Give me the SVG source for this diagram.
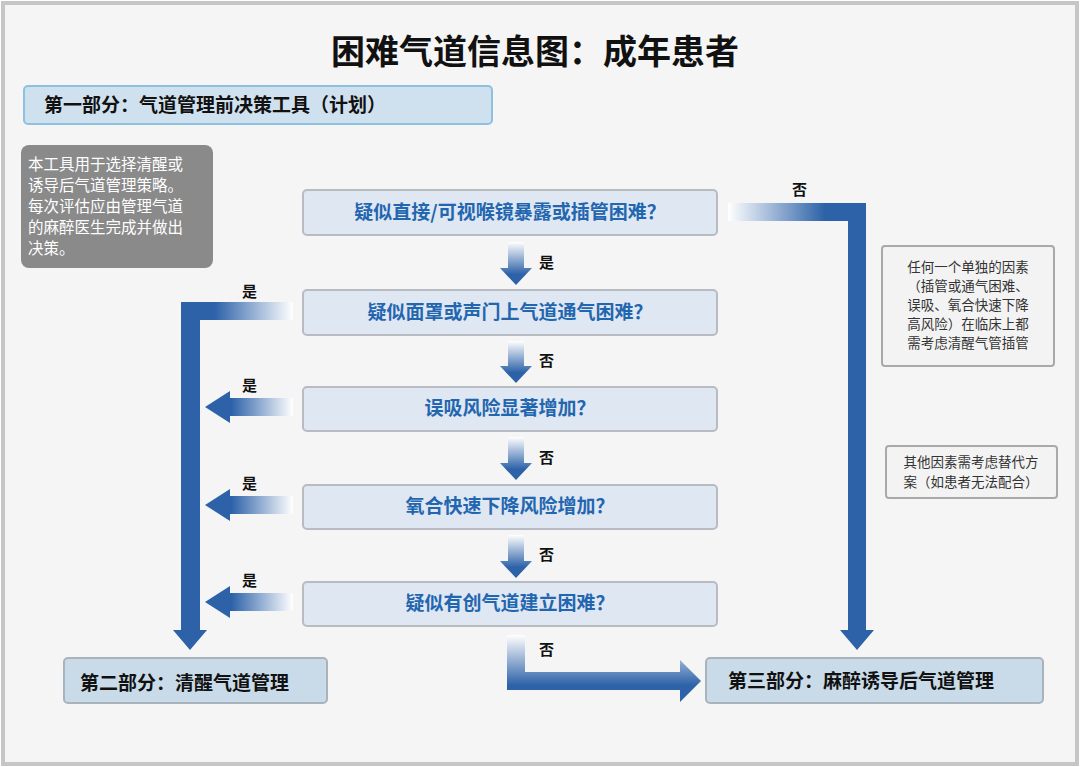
<svg xmlns="http://www.w3.org/2000/svg" width="1080" height="767" viewBox="0 0 1080 767">
<style>
text{font-family:"Noto Sans CJK SC","Liberation Sans",sans-serif}
.q{fill:#dfe7f2;stroke:#b8bcc2;stroke-width:2}
.qt{fill:#2366b0;font-weight:bold;font-size:19px;text-anchor:middle}
.lb{font-size:15px;font-weight:bold;fill:#111}
.part{fill:#c9dbe9;stroke:#a9b3bc;stroke-width:2}
.pt{font-size:19px;font-weight:bold;fill:#111}
.note{fill:#f3f3f3;stroke:#a9a9a9;stroke-width:2}
.nt{font-size:13.5px;fill:#333;text-anchor:middle}
</style>
<defs>
<linearGradient id="gd" x1="0" y1="0" x2="0" y2="1"><stop offset="0" stop-color="#fff"/><stop offset="0.75" stop-color="#2d62a8"/></linearGradient>
<linearGradient id="gl" x1="1" y1="0" x2="0" y2="0"><stop offset="0" stop-color="#fff"/><stop offset="0.7" stop-color="#2d62a8"/></linearGradient>
<linearGradient id="gr" x1="0" y1="0" x2="1" y2="0"><stop offset="0" stop-color="#fff"/><stop offset="0.7" stop-color="#2d62a8"/></linearGradient>
</defs>
<rect x="3" y="3" width="1074" height="761" fill="#f5f5f5" stroke="#c6c6c6" stroke-width="4"/>
<text x="535" y="64" font-size="34" font-weight="bold" text-anchor="middle" fill="#111">困难气道信息图：成年患者</text>
<g id="part1"><rect x="24" y="86" width="468" height="38" rx="4" fill="#cfe1ef" stroke="#8cc2df" stroke-width="2"/><text x="44" y="112" class="pt">第一部分：气道管理前决策工具（计划）</text></g>
<g id="intro"><rect x="21" y="145" width="192" height="123" rx="8" fill="#8a8a8a"/>
<text font-size="15.5" fill="#fff"><tspan x="28" y="170">本工具用于选择清醒或</tspan><tspan x="28" y="191">诱导后气道管理策略。</tspan><tspan x="28" y="212">每次评估应由管理气道</tspan><tspan x="28" y="233">的麻醉医生完成并做出</tspan><tspan x="28" y="254">决策。</tspan></text></g>
<g id="q1"><rect class="q" x="303" y="190" width="414" height="45" rx="4"/><text class="qt" x="510" y="219">疑似直接/可视喉镜暴露或插管困难？</text></g>
<g id="q2"><rect class="q" x="303" y="290" width="414" height="45" rx="4"/><text class="qt" x="510" y="319">疑似面罩或声门上气道通气困难？</text></g>
<g id="q3"><rect class="q" x="303" y="387" width="414" height="44" rx="4"/><text class="qt" x="510" y="415">误吸风险显著增加？</text></g>
<g id="q4"><rect class="q" x="303" y="485" width="414" height="44" rx="4"/><text class="qt" x="510" y="513">氧合快速下降风险增加？</text></g>
<g id="q5"><rect class="q" x="303" y="582" width="414" height="44" rx="4"/><text class="qt" x="510" y="610">疑似有创气道建立困难？</text></g>
<g id="part2"><rect class="part" x="64" y="658" width="263" height="45" rx="4"/><text class="pt" x="80" y="690">第二部分：清醒气道管理</text></g>
<g id="part3"><rect class="part" x="706" y="658" width="337" height="45" rx="4"/><text class="pt" x="728" y="688">第三部分：麻醉诱导后气道管理</text></g>
<g id="note1"><rect class="note" x="882" y="246" width="172" height="120" rx="3"/>
<text class="nt"><tspan x="968" y="272">任何一个单独的因素</tspan><tspan x="968" y="291">（插管或通气困难、</tspan><tspan x="968" y="310">误吸、氧合快速下降</tspan><tspan x="968" y="329">高风险）在临床上都</tspan><tspan x="968" y="348">需考虑清醒气管插管</tspan></text></g>
<g id="note2"><rect class="note" x="886" y="446" width="171" height="52" rx="3"/>
<text class="nt"><tspan x="971" y="467">其他因素需考虑替代方</tspan><tspan x="971" y="487">案（如患者无法配合）</tspan></text></g>
<g id="connectors">
<path d="M508 242H524V268H532L516 285L500 268H508Z" fill="url(#gd)"/>
<path d="M508 341H524V366H532L516 383L500 366H508Z" fill="url(#gd)"/>
<path d="M508 437H524V463H532L516 480L500 463H508Z" fill="url(#gd)"/>
<path d="M508 535H524V561H532L516 578L500 561H508Z" fill="url(#gd)"/>
<path d="M293 398V416H230V423L205 407L230 391V398Z" fill="url(#gl)"/>
<path d="M293 496V514H230V521L205 505L230 489V496Z" fill="url(#gl)"/>
<path d="M293 593V611H230V618L205 602L230 586V593Z" fill="url(#gl)"/>
<rect x="181" y="302" width="112" height="18" fill="url(#gl)"/>
<path d="M181 302H200V630H207L190 650L173 630H181Z" fill="#2d62a8"/>
<rect x="728" y="203" width="138" height="18" fill="url(#gr)"/>
<path d="M848 203H866V630H874L857 650L840 630H848Z" fill="#2d62a8"/>
<path d="M507 635H525V672H680V660L701 681L680 702V690H507Z" fill="url(#gd)"/>
<text class="lb" x="539" y="268">是</text>
<text class="lb" x="539" y="366">否</text>
<text class="lb" x="539" y="463">否</text>
<text class="lb" x="539" y="560">否</text>
<text class="lb" x="539" y="655">否</text>
<text class="lb" x="242" y="297">是</text>
<text class="lb" x="242" y="391">是</text>
<text class="lb" x="242" y="489">是</text>
<text class="lb" x="242" y="586">是</text>
<text class="lb" x="792" y="195">否</text>
</g>
</svg>
